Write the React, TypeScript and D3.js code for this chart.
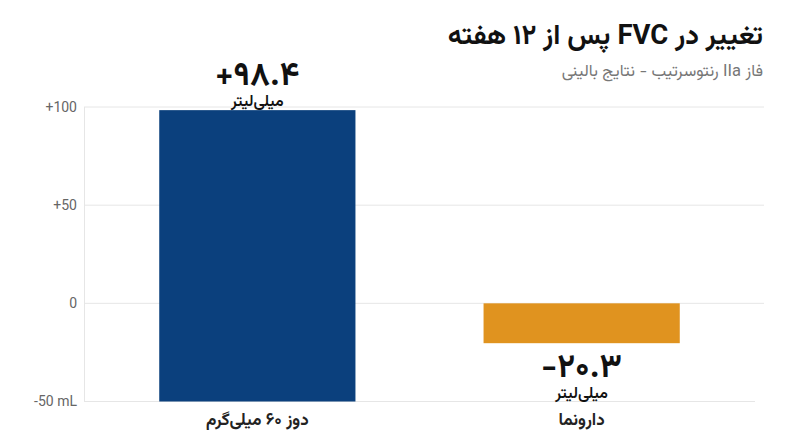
import React from "react";
import * as d3 from "d3";

const categories = ["دوز ۶۰ میلی‌گرم", "دارونما"];
const values = [98.4, -20.3];
const valueLabels = ["+۹۸.۴", "-۲۰.۳"];
const barBases = [-50, 0];
const barColors = ["#0b407d", "#e0931f"];
const yTicks = [100, 50, 0, -50];
const yTickLabels = ["+100", "+50", "0", "-50 mL"];
const unitLabel = "میلی‌لیتر";
const title = "تغییر در FVC پس از ۱۲ هفته";
const subtitle = "فاز IIa رنتوسرتیب - نتایج بالینی";

const W = 800;
const H = 447;
const faFont = "Vazirmatn, 'Noto Sans Arabic', 'DejaVu Sans', sans-serif";

export default function App() {
  const y = d3.scaleLinear().domain([-50, 100]).range([401.5, 107]);
  const x = d3
    .scaleBand<string>()
    .domain(categories)
    .range([84, 755])
    .paddingInner(0.395)
    .paddingOuter(0.232);

  return (
    <svg width={W} height={H} style={{ position: "absolute", left: 0, top: 0, background: "#fff" }}>
      <text x={763} y={44} direction="rtl" textAnchor="start" fontFamily={faFont} fontWeight={700} fontSize={27.5} fill="#111">
        {title}
      </text>
      <text x={763} y={76} direction="rtl" textAnchor="start" fontFamily={faFont} fontSize={16.5} fill="#777">
        {subtitle}
      </text>
      {yTicks.map((t, i) => (
        <g key={t}>
          <line x1={84} x2={t === -50 ? 755 : 764} y1={y(t)} y2={y(t)} stroke="#e6e6e6" strokeWidth={1} />
          <text x={77} y={y(t)} dy="0.35em" textAnchor="end" fontFamily="Roboto, sans-serif" fontSize={14} fill="#666">
            {yTickLabels[i]}
          </text>
        </g>
      ))}
      <line x1={84.5} x2={84.5} y1={y(100)} y2={y(-50)} stroke="#e6e6e6" strokeWidth={1} />
      {categories.map((c, i) => {
        const v = values[i];
        const top = y(Math.max(v, barBases[i]));
        const bot = y(Math.min(v, barBases[i]));
        const cx = (x(c) as number) + x.bandwidth() / 2;
        const pos = v >= 0;
        const numY = pos ? y(v) - 25 : y(v) + 34;
        return (
          <g key={c}>
            <rect x={x(c)} y={top} width={x.bandwidth()} height={bot - top} fill={barColors[i]} />
            <text textAnchor="middle" fontFamily={faFont} fill="#111">
              <tspan x={cx} y={numY} fontWeight={700} fontSize={33}>
                {valueLabels[i]}
              </tspan>
              <tspan x={cx} y={numY + 21} fontWeight={600} fontSize={16} direction="rtl">
                {unitLabel}
              </tspan>
            </text>
            <text x={cx} y={425} textAnchor="middle" direction="rtl" fontFamily={faFont} fontWeight={700} fontSize={17} fill="#222">
              {c}
            </text>
          </g>
        );
      })}
    </svg>
  );
}
